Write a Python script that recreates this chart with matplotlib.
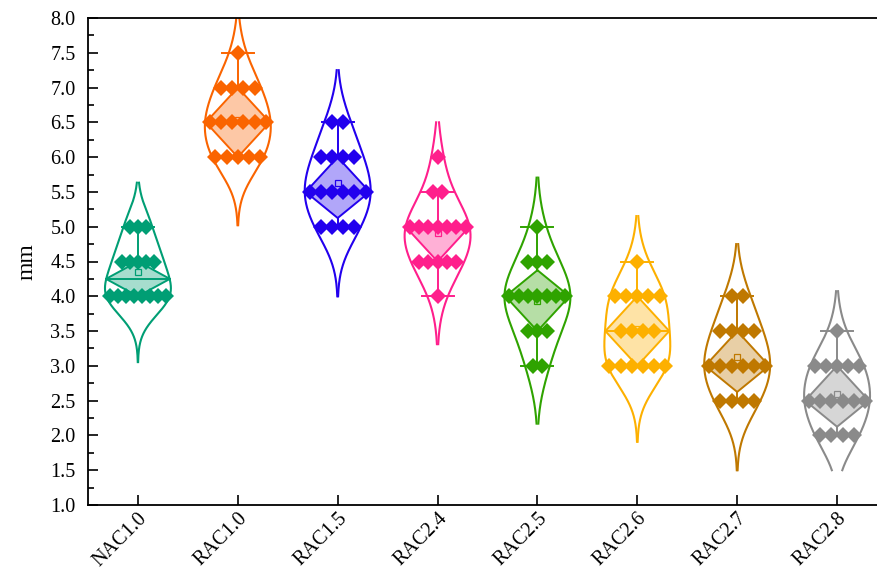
import numpy as np
import matplotlib.pyplot as plt
from matplotlib.ticker import AutoMinorLocator, FormatStrFormatter

plt.rcParams['font.family'] = ['Liberation Serif', 'DejaVu Serif']

labels = ['NAC1.0', 'RAC1.0', 'RAC1.5', 'RAC2.4', 'RAC2.5', 'RAC2.6', 'RAC2.7', 'RAC2.8']

nac_1_0 = [5.0, 5.0, 5.0, 4.5, 4.5, 4.5, 4.5, 4.5, 4.0, 4.0, 4.0, 4.0, 4.0, 4.0, 4.0, 4.0]
rac_1_0 = [7.5, 7.0, 7.0, 7.0, 7.0, 6.5, 6.5, 6.5, 6.5, 6.5, 6.5, 6.0, 6.0, 6.0, 6.0, 6.0]
rac_1_5 = [6.5, 6.5, 6.0, 6.0, 6.0, 6.0, 5.5, 5.5, 5.5, 5.5, 5.5, 5.5, 5.0, 5.0, 5.0, 5.0]
rac_2_4 = [6.0, 5.5, 5.5, 5.0, 5.0, 5.0, 5.0, 5.0, 5.0, 5.0, 4.5, 4.5, 4.5, 4.5, 4.5, 4.0]
rac_2_5 = [5.0, 4.5, 4.5, 4.5, 4.0, 4.0, 4.0, 4.0, 4.0, 4.0, 4.0, 3.5, 3.5, 3.5, 3.0, 3.0]
rac_2_6 = [4.5, 4.0, 4.0, 4.0, 4.0, 4.0, 3.5, 3.5, 3.5, 3.5, 3.0, 3.0, 3.0, 3.0, 3.0, 3.0]
rac_2_7 = [4.0, 4.0, 3.5, 3.5, 3.5, 3.5, 3.0, 3.0, 3.0, 3.0, 3.0, 3.0, 2.5, 2.5, 2.5, 2.5]
rac_2_8 = [3.5, 3.0, 3.0, 3.0, 3.0, 3.0, 2.5, 2.5, 2.5, 2.5, 2.5, 2.5, 2.0, 2.0, 2.0, 2.0]

groups = [nac_1_0, rac_1_0, rac_1_5, rac_2_4, rac_2_5, rac_2_6, rac_2_7, rac_2_8]
colors = ['#009E74', '#FA6400', '#2200EE', '#FF1F8C', '#2FA300', '#FDB000', '#BF7800', '#8A8A8A']

half_violin = 0.33
half_box = 0.32
half_cap = 0.16
point_span = 0.56

fig = plt.figure(figsize=(8.78, 5.72), dpi=100)
ax = fig.add_axes([88/878, 67/572, 799/878, 487/572])

for i, (vals, c) in enumerate(zip(groups, colors), start=1):
    v = np.array(vals)
    mean, sd = v.mean(), v.std(ddof=1)
    q1, med, q3 = np.percentile(v, [25, 50, 75], method='weibull')
    iqr = q3 - q1
    lo = v[v >= q1 - 1.5 * iqr].min()
    hi = v[v <= q3 + 1.5 * iqr].max()

    # kernel density outline
    h = 0.75 * sd
    y = np.linspace(max(mean - 3.25 * sd, 1.5), mean + 3.25 * sd, 500)
    dens = np.exp(-0.5 * ((y[:, None] - v[None, :]) / h) ** 2).sum(axis=1)
    w = half_violin * dens / dens.max()
    ax.plot(i + w, y, color=c, lw=1.5, zorder=2)
    ax.plot(i - w, y, color=c, lw=1.5, zorder=2)

    # diamond box
    bx = [i, i + half_box, i, i - half_box]
    by = [q3, med, q1, med]
    ax.fill(bx, by, facecolor=c, alpha=0.35, edgecolor='none', zorder=3)
    ax.plot(bx + [i], by + [q3], color=c, lw=1.4, zorder=3)
    ax.plot([i - half_box, i + half_box], [med, med], color=c, lw=1.4, zorder=3)

    # whiskers
    ax.plot([i, i], [q3, hi], color=c, lw=1.4, zorder=3)
    ax.plot([i, i], [lo, q1], color=c, lw=1.4, zorder=3)
    ax.plot([i - half_cap, i + half_cap], [hi, hi], color=c, lw=1.4, zorder=3)
    ax.plot([i - half_cap, i + half_cap], [lo, lo], color=c, lw=1.4, zorder=3)

    ax.plot(i, mean, 's', mfc='none', mec=c, ms=5, mew=0.9, zorder=4)

    # data points spread side by side at each level
    uniq, counts = np.unique(v, return_counts=True)
    step = point_span / (counts.max() - 1)
    for val, k in zip(uniq, counts):
        offs = (np.arange(k) - (k - 1) / 2) * step
        ax.plot(i + offs, np.full(k, val), 'D', color=c, ms=8.5, mew=0, zorder=5)

ax.set_xlim(0.5, 8.5)
ax.set_ylim(1.0, 8.0)
ax.set_yticks(np.arange(1.0, 8.01, 0.5))
ax.yaxis.set_major_formatter(FormatStrFormatter('%.1f'))
ax.yaxis.set_minor_locator(AutoMinorLocator(2))
ax.set_xticks(range(1, 9))
ax.set_xticklabels(labels, rotation=45, ha='right', rotation_mode='anchor')
ax.tick_params(direction='in', length=7, width=1.2, labelsize=14.5)
ax.tick_params(which='minor', direction='in', length=4, width=1.2)
ax.tick_params(axis='x', pad=3)
ax.tick_params(axis='y', pad=9)
for s in ax.spines.values():
    s.set_linewidth(1.3)
ax.set_ylabel('mm', fontsize=17, labelpad=9)

fig.savefig('out.png', dpi=100)
